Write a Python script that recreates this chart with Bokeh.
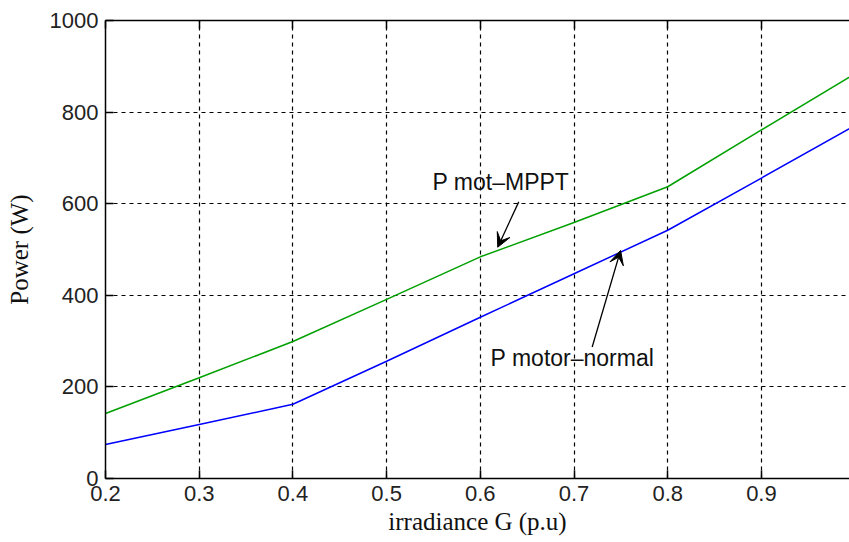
from bokeh.plotting import figure
from bokeh.models import Range1d, LinearAxis, FixedTicker, Arrow, VeeHead, Label
from bokeh.embed import file_html
from bokeh.resources import INLINE

irradiance = [0.2, 0.3, 0.4, 0.5, 0.6, 0.7, 0.8, 0.9, 1.0]
p_mot_mppt = [142, 220, 299, 391, 484, 559, 637, 761, 884]
p_motor_normal = [74, 118, 162, 256, 352, 447, 542, 656, 771]
x_ticks = [0.2, 0.3, 0.4, 0.5, 0.6, 0.7, 0.8, 0.9]
y_ticks = [0, 200, 400, 600, 800, 1000]

p = figure(width=849, height=542, output_backend="svg", toolbar_location=None,
           x_range=Range1d(0.2, 0.994), y_range=Range1d(0, 1000),
           x_axis_label="irradiance G (p.u)", y_axis_label="Power (W)")
p.min_border_left = 105
p.min_border_right = 0
p.min_border_top = 20
p.min_border_bottom = 64
p.outline_line_color = None
p.background_fill_color = "white"
p.border_fill_color = "white"

for ax in (p.xaxis[0], p.yaxis[0]):
    ax.major_tick_in = 8
    ax.major_tick_out = 0
    ax.minor_tick_in = 0
    ax.minor_tick_out = 0
    ax.axis_line_color = "black"
    ax.axis_line_width = 1.5
    ax.major_tick_line_color = "black"
    ax.major_tick_line_width = 1.5
    ax.major_label_text_font = "Liberation Sans"
    ax.major_label_text_font_size = "22px"
    ax.major_label_text_color = "#222222"
    ax.major_label_standoff = 7
    ax.axis_label_text_font = "Liberation Serif"
    ax.axis_label_text_font_size = "25px"
    ax.axis_label_text_font_style = "normal"
    ax.axis_label_text_color = "#111111"

p.xaxis[0].ticker = FixedTicker(ticks=x_ticks)
p.yaxis[0].ticker = FixedTicker(ticks=y_ticks)
p.xaxis[0].axis_label_standoff = 4
p.yaxis[0].axis_label_standoff = 14

top = LinearAxis(ticker=FixedTicker(ticks=x_ticks))
top.major_tick_in = 8
top.major_tick_out = 0
top.minor_tick_in = 0
top.minor_tick_out = 0
top.axis_line_color = "black"
top.axis_line_width = 1.5
top.major_tick_line_color = "black"
top.major_tick_line_width = 1.5
top.major_label_overrides = {t: "" for t in x_ticks}
top.major_label_text_font_size = "10px"
top.major_label_standoff = 0
p.add_layout(top, "above")

p.xgrid.ticker = FixedTicker(ticks=x_ticks)
p.ygrid.ticker = FixedTicker(ticks=y_ticks)
for g in (p.xgrid[0], p.ygrid[0]):
    g.grid_line_color = "black"
    g.grid_line_dash = "4 4"
    g.grid_line_width = 1.2

p.line(irradiance, p_mot_mppt, line_color="#00a000", line_width=1.5)
p.line(irradiance, p_motor_normal, line_color="#0000ff", line_width=1.5)

p.add_layout(Label(x=0.549, y=647, text="P mot\u2013MPPT", text_font="Liberation Sans",
                   text_font_size="23px", text_baseline="middle", text_color="#111111"))
p.add_layout(Label(x=0.611, y=264, text="P motor\u2013normal", text_font="Liberation Sans",
                   text_font_size="23px", text_baseline="middle", text_color="#111111"))

p.add_layout(Arrow(x_start=0.641, y_start=604, x_end=0.6186, y_end=505,
                   line_color="black", line_width=1.3,
                   end=VeeHead(size=14, fill_color="black", line_color="black")))
p.add_layout(Arrow(x_start=0.7194, y_start=287, x_end=0.7497, y_end=498,
                   line_color="black", line_width=1.3,
                   end=VeeHead(size=14, fill_color="black", line_color="black")))

open("out.html", "w").write(file_html(p, INLINE))
